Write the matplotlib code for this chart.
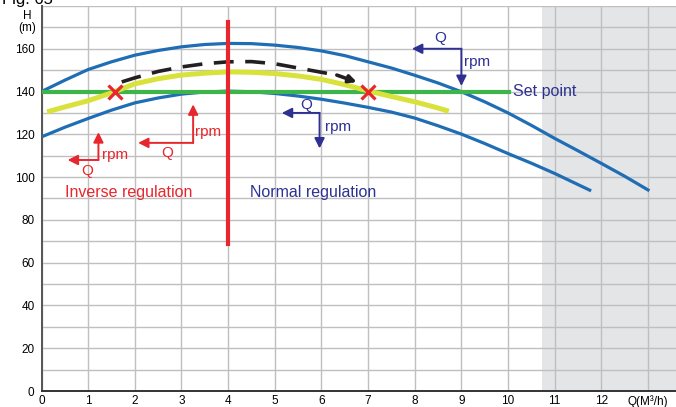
import matplotlib
matplotlib.use("Agg")
import matplotlib.pyplot as plt

# pump curves (Q in m3/h, H in m)
upper_q = [0, 0.5, 1, 1.5, 2, 2.5, 3, 3.5, 4, 4.5, 5, 5.5, 6, 6.5, 7, 7.5, 8, 8.5, 9, 9.5, 10, 10.5, 11, 11.5, 12, 12.5, 13]
upper_h = [140, 145.3, 150.3, 153.9, 157, 159.2, 160.9, 162, 162.5, 162.4, 161.7, 160.6, 159, 156.8, 153.9, 151, 147.6, 144, 139.9, 135.2, 130, 124.2, 118.1, 112.3, 106.4, 100.4, 94]

lower_q = [0, 0.5, 1, 1.5, 2, 2.5, 3, 3.5, 4, 4.5, 5, 5.5, 6, 6.5, 7, 7.5, 8, 8.5, 9, 9.5, 10, 10.5, 11, 11.75]
lower_h = [118.8, 123.3, 127.4, 131.3, 134.7, 137, 138.8, 139.8, 140.2, 139.9, 139.1, 137.9, 136.4, 134.6, 132.6, 130.4, 127.6, 124, 120.1, 115.7, 111, 106.5, 101.7, 93.9]

yellow_q = [0.12, 0.5, 1, 1.5, 2, 2.5, 3, 3.5, 4, 4.5, 5, 5.5, 6, 6.5, 7, 7.5, 8, 8.5, 8.73]
yellow_h = [130.5, 132.8, 135.7, 139.4, 143.6, 146, 147.7, 148.6, 149.2, 149, 148.4, 147.3, 145.7, 143.2, 140.3, 137.7, 135.2, 132.3, 130.8]

dash_q = [1.72, 2, 2.5, 3, 3.5, 4, 4.5, 5, 5.5, 6, 6.33]
dash_h = [144.5, 146.4, 149.4, 151.5, 153, 153.9, 154, 153, 151, 149, 147.7]

set_point = 140
cross_q = [1.58, 6.99]
xticks = list(range(0, 13))
xlabels = [str(i) for i in xticks]

blue = "#1f6db5"
navy = "#2e3192"
red = "#e8262d"

plt.rcParams['font.family'] = ['Liberation Sans', 'DejaVu Sans']

fig = plt.figure(figsize=(6.76, 4.07), dpi=100)
ax = fig.add_axes([0.0614, 0.0393, 0.9386, 0.946])

ax.set_xlim(0, 13.6)
ax.set_ylim(0, 180)

# grey area on the right
ax.axvspan(10.72, 13.6, color="#e4e5e7", zorder=0, lw=0)

# grid
ax.set_xticks(list(range(0, 14)))
ax.set_xticklabels(xlabels + ["Q(M³/h)"])
ax.set_yticks(list(range(0, 161, 20)))
ax.set_yticks(list(range(0, 181, 10)), minor=True)
ax.grid(True, which="both", color="#bfbfbf", lw=1)
ax.set_axisbelow(True)
ax.tick_params(which="both", length=0, labelsize=8.5)
ax.tick_params(axis="y", pad=5)
ax.tick_params(axis="x", pad=3)
for s in ["top", "right"]:
    ax.spines[s].set_visible(False)
ax.spines["left"].set_color("#555555")
ax.spines["bottom"].set_color("#333333")
ax.spines["left"].set_linewidth(1.4)
ax.spines["bottom"].set_linewidth(1.4)

# curves
ax.plot(upper_q, upper_h, color=blue, lw=2.3, zorder=3)
ax.plot(lower_q, lower_h, color=blue, lw=2.3, zorder=3)
ax.plot([0, 10.02], [set_point, set_point], color="#3db54a", lw=3, zorder=3.5)
ax.plot(yellow_q, yellow_h, color="#d9e23b", lw=3.6, zorder=4, solid_capstyle="butt")
ax.plot(dash_q, dash_h, color="#231f20", lw=2.6, dashes=(5.5, 3.2), zorder=5)
ax.annotate("", xy=(6.76, 144.4), xytext=(dash_q[-1], dash_h[-1]),
            arrowprops=dict(arrowstyle="-|>", color="#231f20", lw=2.6, mutation_scale=11,
                            shrinkA=0, shrinkB=0), zorder=5)
ax.plot(cross_q, [set_point] * 2, "x", color=red, ms=10, mew=2.3, zorder=6)

# red divider line
ax.plot([4, 4], [68.7, 172.4], color=red, lw=3, zorder=6)

ax.text(10.1, set_point, "Set point", color=navy, fontsize=11.5, va="center", ha="left")
ax.text(0.5, 93, "Inverse regulation", color=red, fontsize=11.5, va="center", ha="left")
ax.text(4.47, 93, "Normal regulation", color=navy, fontsize=11.5, va="center", ha="left")


def corner_arrows(cq, ch, q_end, h_end, col, q_pos, rpm_pos):
    ap = dict(arrowstyle="-|>", color=col, lw=1.4, mutation_scale=15, shrinkA=0, shrinkB=0)
    ax.annotate("", xy=(q_end, ch), xytext=(cq, ch), arrowprops=ap, zorder=7)
    ax.annotate("", xy=(cq, h_end), xytext=(cq, ch), arrowprops=ap, zorder=7)
    ax.text(q_pos[0], q_pos[1], "Q", color=col, fontsize=11, ha="center", va="center")
    ax.text(rpm_pos[0], rpm_pos[1], "rpm", color=col, fontsize=11, ha="left", va="center")


corner_arrows(1.22, 108, 0.56, 121, red, (0.98, 102.7), (1.3, 110.4))
corner_arrows(3.25, 116, 2.07, 134, red, (2.69, 111.4), (3.3, 120.9))
corner_arrows(9.0, 160, 7.94, 142.6, navy, (8.55, 165), (9.05, 153.9))
corner_arrows(5.96, 130, 5.15, 113.4, navy, (5.68, 133.5), (6.07, 123.5))

# axis caption
ax.text(-0.3, 172.5, "H\n(m)", fontsize=8.5, ha="center", va="center", linespacing=1.0)

# figure caption, cut off at the top like in the original
fig.text(0.003, 0.99, "Fig. 65", fontsize=12, ha="left", va="baseline")

plt.savefig("out.png", dpi=100)
